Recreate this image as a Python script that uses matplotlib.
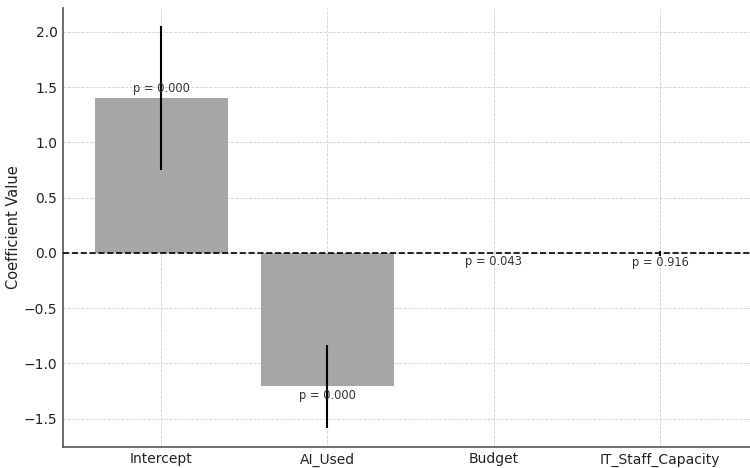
import matplotlib
matplotlib.use("Agg")
import matplotlib.pyplot as plt
import numpy as np

categories = ["Intercept", "AI_Used", "Budget", "IT_Staff_Capacity"]
coefs = [1.40, -1.208, -0.0005, -0.004]
errors = [0.65, 0.375, 0.002, 0.025]
pvalues = [0.000, 0.000, 0.043, 0.916]

fig, ax = plt.subplots(figsize=(7.5, 4.68), dpi=100)
fig.subplots_adjust(left=0.084, right=1.0, top=0.983, bottom=0.045)

x = np.arange(len(categories))
ax.bar(x, coefs, width=0.8, color="#a6a6a6", yerr=errors,
       error_kw=dict(ecolor="black", elinewidth=1.5, capsize=0), zorder=2)
ax.axhline(0, color="black", linestyle="--", linewidth=1.2, zorder=3)

for xi, c, p in zip(x, coefs, pvalues):
    if c > 0:
        ax.text(xi, c + 0.03, f"p = {p:.3f}", ha="center", va="bottom",
                fontsize=8.3, color="#333333", zorder=4)
    else:
        ax.text(xi, c - 0.02, f"p = {p:.3f}", ha="center", va="top",
                fontsize=8.3, color="#333333", zorder=4)

ax.set_xticks(x)
ax.set_xticklabels(categories, fontsize=10)
ax.set_ylabel("Coefficient Value", fontsize=10.5, color="#222222", labelpad=2)
ax.set_xlim(-0.59, 3.54)
ax.set_ylim(-1.756, 2.217)
ax.set_yticks([-1.5, -1.0, -0.5, 0.0, 0.5, 1.0, 1.5, 2.0])
ax.tick_params(axis="both", length=0, labelsize=10, pad=4, labelcolor="#222222")
ax.grid(True, linestyle="--", linewidth=0.6, color="#d0d0d0", zorder=0)
ax.set_axisbelow(True)
for s in ["top", "right"]:
    ax.spines[s].set_visible(False)
for s in ["left", "bottom"]:
    ax.spines[s].set_color("#555555")
    ax.spines[s].set_linewidth(1.2)

fig.savefig("out.png", dpi=100)
